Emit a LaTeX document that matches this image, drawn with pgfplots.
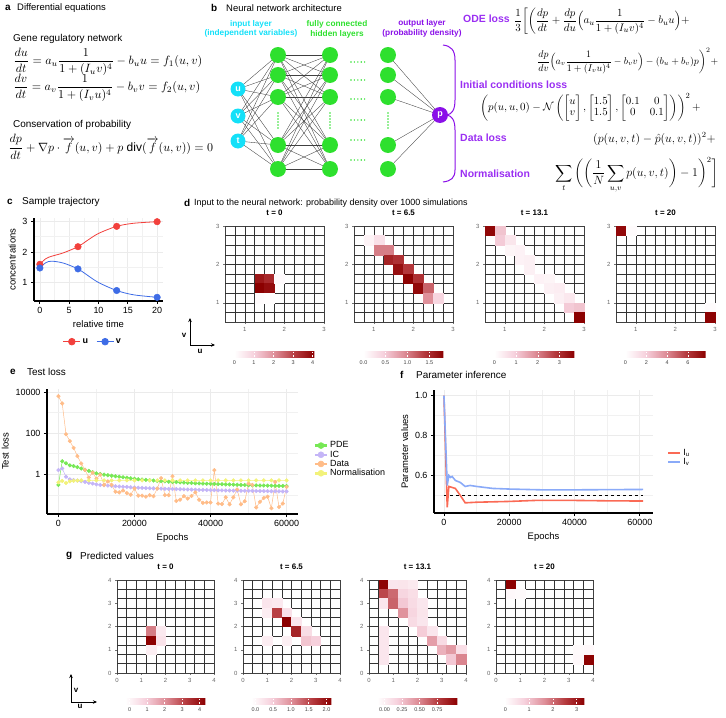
\documentclass[border=0pt]{standalone}
\usepackage{fontspec}
\setmainfont{Liberation Sans}
\usepackage{amsmath}
\usepackage{graphicx}
\usepackage{pgfplots}
\pgfplotsset{compat=1.18}
\usetikzlibrary{arrows.meta}

\newcommand{\fs}[1]{\fontsize{#1}{#1}\selectfont}

\definecolor{ured}{HTML}{F2403C}
\definecolor{vblue}{HTML}{3E6CE6}
\definecolor{pdeg}{HTML}{77E855}
\definecolor{icv}{HTML}{C4B5F7}
\definecolor{datao}{HTML}{FFBC88}
\definecolor{normy}{HTML}{F2F27A}
\definecolor{iured}{HTML}{FA6A55}
\definecolor{ivblue}{HTML}{8AAAF8}
\definecolor{nncyan}{HTML}{14E0F8}
\definecolor{nngreen}{HTML}{2EE02E}
\definecolor{nnpurple}{HTML}{8A10E8}
\definecolor{losspurple}{HTML}{9A2EF2}
\definecolor{gridc}{HTML}{EBEBEB}

\pgfplotsset{
  reds/.style={colormap={reds}{rgb255=(255,255,255) rgb255=(246,208,220) rgb255=(222,142,152) rgb255=(182,60,64) rgb255=(139,0,0)}},
  hm/.style={scale only axis, axis on top, reds, enlargelimits=false,
    tick align=outside, major tick length=2bp, xtick pos=bottom, ytick pos=left,
    tick style={black!55, line width=0.5bp},
    ticklabel style={font=\fs{6}, text=black!60},
    /pgf/number format/assume math mode=true,
    axis line style={black!75, line width=0.8bp},
    extra x tick labels={}, extra y tick labels={},
    extra tick style={grid=major, major tick length=0pt},
    major grid style={black!80, line width=0.6bp},
    title style={font=\bfseries\fs{8}, inner sep=0pt, yshift=4bp},
    colorbar horizontal},
  dmap/.style={hm, width=99bp, height=96bp, xmin=0.5, xmax=3, ymin=0.5, ymax=3,
    xtick={1,2,3}, ytick={1,2,3},
    extra x ticks={0.75,1,1.25,1.5,1.75,2,2.25,2.5,2.75},
    extra y ticks={0.75,1,1.25,1.5,1.75,2,2.25,2.5,2.75}},
  gmap/.style={hm, width=97bp, height=93bp, xmin=0, xmax=4, ymin=0, ymax=4,
    xtick={0,1,2,3,4}, ytick={0,1,2,3,4},
    extra x ticks={0.4,0.8,1.2,1.6,2,2.4,2.8,3.2,3.6},
    extra y ticks={0.4,0.8,1.2,1.6,2,2.4,2.8,3.2,3.6}},
  cbs/.style={at={(parent axis.south)}, anchor=north, scale only axis, width=80bp, height=5.5bp,
    tick align=inside, major tick length=1.6bp, xtick style={draw=white, line width=0.5bp},
    axis line style={draw=none}, xticklabel style={font=\fs{5.5}, text=black!75},
    /pgf/number format/assume math mode=true},
  dcell/.style={scatter, only marks, point meta=explicit, mark=square*, mark size=4.95bp, mark options={yscale=0.97},
    scatter/use mapped color={draw=mapped color, fill=mapped color}},
  gcell/.style={scatter, only marks, point meta=explicit, mark=square*, mark size=4.85bp, mark options={yscale=0.96},
    scatter/use mapped color={draw=mapped color, fill=mapped color}},
  gg/.style={scale only axis, axis lines*=left, tick align=outside, major tick length=3bp, minor tick length=0pt,
    axis line style={black, line width=1.1bp}, tick style={black, line width=0.8bp},
    grid=both, major grid style={gridc, line width=0.7bp}, minor grid style={gridc!70, line width=0.4bp},
    ticklabel style={font=\fs{9}}, label style={font=\fs{9.5}},
    /pgf/number format/assume math mode=true, scaled ticks=false,
    legend cell align=left,
    legend style={draw=none, fill=none, font=\fs{9}}}
}

\begin{document}
\begin{tikzpicture}
\useasboundingbox (0,0) rectangle (726bp,-718bp);

\begin{scope}[x=1bp,y=-1bp]
% ---------- panel a ----------
\node[anchor=west, inner sep=0, font=\bfseries\fs{10}] at (5,8) {a};
\node[anchor=west, inner sep=0, font=\fs{9.5}] at (17,8) {Differential equations};
\node[anchor=west, inner sep=0, font=\fs{10}] at (13,39) {Gene regulatory network};
\node[anchor=west, inner sep=0] at (13,62) {\resizebox{189bp}{!}{$\displaystyle \frac{du}{dt}=a_u\frac{1}{1+(I_uv)^4}-b_uu=f_1(u,v)$}};
\node[anchor=west, inner sep=0] at (13,88) {\resizebox{187bp}{!}{$\displaystyle \frac{dv}{dt}=a_v\frac{1}{1+(I_vu)^4}-b_vv=f_2(u,v)$}};
\node[anchor=west, inner sep=0, font=\fs{10}] at (13,125) {Conservation of probability};
\node[anchor=west, inner sep=0] at (8,147) {\resizebox{205bp}{!}{$\displaystyle \frac{dp}{dt}+\nabla p\cdot\overrightarrow{f}(u,v)+p\;\mathrm{div}(\overrightarrow{f}(u,v))=0$}};

% ---------- panel b ----------
\node[anchor=west, inner sep=0, font=\bfseries\fs{10}] at (211,8) {b};
\node[anchor=west, inner sep=0, font=\fs{9.5}] at (226,8) {Neural network architecture};
\node[inner sep=0, font=\bfseries\fs{8.3}, text=nncyan] at (251,24) {input layer};
\node[inner sep=0, font=\bfseries\fs{8.3}, text=nncyan] at (251,33.5) {(independent variables)};
\node[inner sep=0, font=\bfseries\fs{8.3}, text=nngreen] at (337,24) {fully connected};
\node[inner sep=0, font=\bfseries\fs{8.3}, text=nngreen] at (337,34) {hidden layers};
\node[inner sep=0, font=\bfseries\fs{8.3}, text=nnpurple] at (422,23) {output layer};
\node[inner sep=0, font=\bfseries\fs{8.3}, text=nnpurple] at (422,33) {(probability density)};
\foreach \a in {89,116,141} \foreach \b in {55,75,97,145,169} \draw[black!75, line width=0.35bp] (238,\a)--(278,\b);
\foreach \a in {55,75,97,145,169} \foreach \b in {55,75,97,145,169} \draw[black!75, line width=0.35bp] (278,\a)--(330,\b);
\foreach \a in {55,75,97,145,169} \draw[black!75, line width=0.35bp] (388,\a)--(440,115);
\foreach \x in {278,330,388} {
  \foreach \y in {55,75,97,145,169} \fill[nngreen] (\x,\y) circle (8bp);
  \draw[nngreen, line width=1.6bp, line cap=round, dash pattern=on 0bp off 3bp] (\x,113)--(\x,130);
}
\foreach \y in {62,80,99,120,140,160} \draw[nngreen, line width=1.6bp, line cap=round, dash pattern=on 0bp off 3.4bp] (351,\y)--(367,\y);
\foreach \y/\l in {89/u,116/v,141/t} \node[circle, fill=nncyan, minimum size=15bp, inner sep=0, text=white, font=\bfseries\fs{9}] at (238,\y) {\l};
\node[circle, fill=nnpurple, minimum size=16bp, inner sep=0, text=white, font=\bfseries\fs{9}] at (440,115) {p};
\draw[nnpurple, line width=1bp] (443,45) .. controls (451,46) and (455,50) .. (455,60) -- (455,100)
  .. controls (455,110) and (452,114) .. (447,115) .. controls (452,116) and (455,120) .. (455,130)
  -- (455,170) .. controls (455,178) and (451,181) .. (443,182);
% losses
\node[anchor=west, inner sep=0, font=\bfseries\fs{10.5}, text=losspurple] at (463,19) {ODE loss};
\node[anchor=west, inner sep=0, font=\bfseries\fs{10.5}, text=losspurple] at (460,85) {Initial conditions loss};
\node[anchor=west, inner sep=0, font=\bfseries\fs{10.5}, text=losspurple] at (460,138) {Data loss};
\node[anchor=west, inner sep=0, font=\bfseries\fs{10.5}, text=losspurple] at (460,174) {Normalisation};
\node[anchor=west, inner sep=0, font=\fs{11}] at (514,21) {$\displaystyle \frac{1}{3}\bigg[\bigg(\frac{dp}{dt}+\frac{dp}{du}\Big(a_u\frac{1}{1+(I_uv)^4}-b_uu\Big)+$};
\node[anchor=west, inner sep=0] at (537,61) {\resizebox{181bp}{!}{$\displaystyle \frac{dp}{dv}\Big(a_v\frac{1}{1+(I_vu)^4}-b_vv\Big)-(b_u+b_v)p\bigg)^2+$}};
\node[anchor=west, inner sep=0, font=\fs{11}] at (480,107) {$\displaystyle \left(p(u,u,0)-\mathcal{N}\left(\begin{bmatrix}u\\v\end{bmatrix},\begin{bmatrix}1.5\\1.5\end{bmatrix},\begin{bmatrix}0.1&0\\0&0.1\end{bmatrix}\right)\right)^2+$};
\node[anchor=west, inner sep=0, font=\fs{11.5}] at (593,139) {$\displaystyle (p(u,v,t)-\hat{p}(u,v,t))^2+$};
\node[anchor=west, inner sep=0, font=\fs{11.5}] at (555,175) {$\displaystyle \sum_t\bigg(\bigg(\frac{1}{N}\sum_{u,v}p(u,v,t)\bigg)-1\bigg)^2\bigg]$};

% ---------- headings ----------
\node[anchor=west, inner sep=0, font=\bfseries\fs{10}] at (7,202) {c};
\node[anchor=west, inner sep=0, font=\fs{10}] at (22,202) {Sample trajectory};
\node[anchor=west, inner sep=0, font=\bfseries\fs{10}] at (184,203) {d};
\node[anchor=west, inner sep=0, font=\fs{9}] at (194,203) {Input to the neural network: probability density over 1000 simulations};
\node[anchor=west, inner sep=0, font=\bfseries\fs{10}] at (10,372) {e};
\node[anchor=west, inner sep=0, font=\fs{10}] at (27,372) {Test loss};
\node[anchor=west, inner sep=0, font=\bfseries\fs{10}] at (400,375) {f};
\node[anchor=west, inner sep=0, font=\fs{10}] at (416,375) {Parameter inference};
\node[anchor=west, inner sep=0, font=\bfseries\fs{10}] at (66,556) {g};
\node[anchor=west, inner sep=0, font=\fs{10}] at (80,556) {Predicted values};
% u/v direction keys
\draw[-{Stealth[length=4bp,width=3.5bp]}, line width=0.8bp] (190,345) -- (190,318);
\draw[-{Stealth[length=4bp,width=3.5bp]}, line width=0.8bp] (190,345) -- (215,345);
\node[inner sep=0, font=\bfseries\fs{8}] at (184,335) {v};
\node[inner sep=0, font=\bfseries\fs{8}] at (200,351) {u};
\draw[-{Stealth[length=4bp,width=3.5bp]}, line width=0.8bp] (71,702) -- (71,674);
\draw[-{Stealth[length=4bp,width=3.5bp]}, line width=0.8bp] (71,702) -- (97,702);
\node[inner sep=0, font=\bfseries\fs{8}] at (76,690) {v};
\node[inner sep=0, font=\bfseries\fs{8}] at (80,706) {u};
\end{scope}

% ---------- panel c ----------
\begin{axis}[gg, at={(34bp,-218bp)}, anchor=north west, width=129bp, height=83bp,
  xmin=-1, xmax=21, ymin=0.41, ymax=3.10, xtick={0,5,10,15,20}, minor xtick={2.5,7.5,12.5,17.5},
  ytick={1,2,3}, minor ytick={1.5,2.5}, xlabel={relative time}, ylabel={concentrations},
  legend style={at={(0.457,-0.49)}, anchor=center, legend columns=2, font=\bfseries\fs{9},
    /tikz/every even column/.append style={column sep=6bp}}]
\addplot[ured, line width=0.8bp, smooth, forget plot] coordinates {(0,1.6) (1,1.78) (2,1.86) (4,1.97) (6.5,2.17) (8,2.36) (10,2.6) (13.1,2.83) (16,2.93) (20,2.98)};
\addplot[vblue, line width=0.8bp, smooth, forget plot] coordinates {(0,1.48) (1,1.65) (2,1.7) (4,1.64) (6.5,1.45) (8,1.26) (10,1.01) (13.1,0.75) (16,0.61) (20,0.53)};
\addplot[ured, only marks, mark=*, mark size=3.3bp, forget plot] coordinates {(0,1.6) (6.5,2.17) (13.1,2.83) (20,2.98)};
\addplot[vblue, only marks, mark=*, mark size=3.3bp, forget plot] coordinates {(0,1.48) (6.5,1.45) (13.1,0.75) (20,0.53)};
\addlegendimage{ured, line width=0.8bp, mark=*, mark size=3.3bp}
\addlegendentry{u}
\addlegendimage{vblue, line width=0.8bp, mark=*, mark size=3.3bp}
\addlegendentry{v}
\end{axis}

% ---------- panel d ----------
\begin{axis}[dmap, at={(225bp,-226bp)}, anchor=north west, title={t = 0}, point meta min=0, point meta max=4.1,
  colorbar style={cbs, yshift=-21bp, xtick={0,1,2,3,4}}]
\addplot[dcell] table[meta index=2] {
1.375 1.625 3.7
1.625 1.625 3.4
1.375 1.375 4.1
1.625 1.375 3.9
1.875 1.625 0.1
1.375 1.125 0.08
1.625 1.125 0.05
};
\end{axis}
\begin{axis}[dmap, at={(354bp,-226bp)}, anchor=north west, title={t = 6.5}, point meta min=0, point meta max=1.82,
  colorbar style={cbs, yshift=-21bp, xtick={0,0.5,1,1.5}, xticklabels={0.0,0.5,1.0,1.5}}]
\addplot[dcell] table[meta index=2] {
0.875 2.625 0.12
1.125 2.625 0.3
1.125 2.375 1.0
1.375 2.375 1.0
1.375 2.125 1.55
1.625 2.125 1.45
1.625 1.875 1.7
1.875 1.875 1.4
1.875 1.625 1.8
2.125 1.625 1.45
2.125 1.375 1.75
2.375 1.375 1.15
2.375 1.125 0.9
2.625 1.125 0.4
};
\end{axis}
\begin{axis}[dmap, at={(485bp,-226bp)}, anchor=north west, title={t = 13.1}, point meta min=0, point meta max=3.7,
  colorbar style={cbs, yshift=-21bp, xtick={0,1,2,3}}]
\addplot[dcell] table[meta index=2] {
0.625 2.875 3.6
0.875 2.875 1.1
0.875 2.625 1.0
1.125 2.625 0.5
1.125 2.375 0.2
1.375 2.375 0.25
1.375 2.125 0.25
1.625 2.125 0.3
1.625 1.875 0.3
1.875 1.625 0.25
2.125 1.625 0.2
2.125 1.375 0.3
2.375 1.375 0.35
2.375 1.125 0.3
2.625 1.125 0.45
2.625 0.875 1.0
2.875 0.875 1.1
2.875 0.625 3.7
};
\end{axis}
\begin{axis}[dmap, at={(616bp,-226bp)}, anchor=north west, title={t = 20}, point meta min=0, point meta max=7.7,
  colorbar style={cbs, yshift=-21bp, xtick={0,2,4,6}}]
\addplot[dcell] table[meta index=2] {
0.625 2.875 7.4
0.875 2.875 0.15
2.875 0.875 0.15
2.875 0.625 7.6
};
\end{axis}

% ---------- panel e ----------
\begin{axis}[gg, at={(47bp,-389bp)}, anchor=north west, width=251bp, height=125bp, ymode=log,
  xmin=-3000, xmax=63000, ymin=0.0115, ymax=14125,
  xtick={0,20000,40000,60000}, xticklabels={0,20000,40000,60000}, minor xtick={10000,30000,50000},
  ytick={1,100,10000}, yticklabels={1,100,10000}, minor ytick={0.1,10,1000},
  xlabel={Epochs}, ylabel={Test loss},
  legend style={at={(1.05,0.436)}, anchor=west, row sep=-2.5bp},
  legend image code/.code={\draw[#1, line width=2.5bp] (0bp,0bp)--(12bp,0bp); \fill[#1] (6bp,0bp) circle (3bp);}]
\addplot[pdeg, line width=0.5bp, mark=*, mark size=1.8bp] table {
0 0.30
1000 4.3
2000 3.4
3000 2.7
4000 2.5
5000 2.2
6000 1.9
7000 1.65
8000 1.45
9000 1.25
10000 1.1
11000 1.02
12000 0.95
13000 0.89
14000 0.84
15000 0.79
16000 0.75
17000 0.71
18000 0.67
19000 0.63
20000 0.6
21000 0.57
22000 0.55
23000 0.53
24000 0.51
25000 0.49
26000 0.47
27000 0.46
28000 0.45
29000 0.43
30000 0.42
31000 0.41
32000 0.4
33000 0.39
34000 0.38
35000 0.37
36000 0.36
37000 0.355
38000 0.35
39000 0.345
40000 0.34
41000 0.335
42000 0.33
43000 0.325
44000 0.32
45000 0.315
46000 0.31
47000 0.305
48000 0.3
49000 0.295
50000 0.29
51000 0.288
52000 0.285
53000 0.282
54000 0.28
55000 0.277
56000 0.275
57000 0.272
58000 0.27
59000 0.268
60000 0.265
};
\addlegendentry{PDE}
\addplot[icv, line width=0.5bp, mark=*, mark size=1.8bp] table {
0 1.6
1000 1.9
2000 0.75
3000 0.56
4000 0.52
5000 0.49
6000 0.46
7000 0.42
8000 0.38
9000 0.35
10000 0.32
11000 0.3
12000 0.29
13000 0.28
14000 0.27
15000 0.26
16000 0.25
17000 0.245
18000 0.24
19000 0.23
20000 0.225
21000 0.22
22000 0.215
23000 0.21
24000 0.207
25000 0.204
26000 0.2
27000 0.198
28000 0.195
29000 0.192
30000 0.19
31000 0.188
32000 0.185
33000 0.183
34000 0.18
35000 0.178
36000 0.176
37000 0.174
38000 0.172
39000 0.17
40000 0.168
41000 0.166
42000 0.164
43000 0.163
44000 0.161
45000 0.16
46000 0.158
47000 0.157
48000 0.156
49000 0.155
50000 0.154
51000 0.153
52000 0.152
53000 0.151
54000 0.15
55000 0.149
56000 0.148
57000 0.147
58000 0.146
59000 0.145
60000 0.145
};
\addlegendentry{IC}
\addplot[datao, line width=0.5bp, mark=*, mark size=1.8bp] table {
0 6300
1000 2800
2000 89
3000 41
4000 19
5000 7.6
6000 3.3
7000 1.6
8000 0.69
9000 1.2
10000 0.6
11000 0.95
12000 0.3
13000 0.45
14000 0.3
15000 0.14
16000 0.13
17000 0.16
18000 0.12
19000 0.1
20000 0.2
21000 0.09
22000 0.09
23000 0.08
24000 0.095
25000 0.085
26000 0.2
27000 0.64
28000 0.095
29000 0.095
30000 0.8
31000 0.05
32000 0.057
33000 0.085
34000 0.065
35000 0.087
36000 0.13
37000 0.057
38000 0.04
39000 0.042
40000 0.042
41000 1.57
42000 0.037
43000 0.035
44000 0.075
45000 0.034
46000 0.075
47000 0.18
48000 0.034
49000 0.048
50000 0.35
51000 0.3
52000 0.024
53000 0.045
54000 0.07
55000 0.08
56000 0.022
57000 0.42
58000 0.025
59000 0.037
60000 0.24
};
\addlegendentry{Data}
\addplot[normy, line width=0.5bp, mark=*, mark size=1.8bp] table {
0 0.4
1000 0.47
2000 0.37
3000 0.45
4000 0.48
5000 0.49
6000 0.5
8000 0.5
10000 0.5
12000 0.5
14000 0.5
16000 0.5
18000 0.5
20000 0.5
22000 0.5
24000 0.5
26000 0.5
28000 0.5
30000 0.5
32000 0.5
34000 0.5
36000 0.5
38000 0.5
40000 0.5
42000 0.5
44000 0.5
46000 0.5
48000 0.5
50000 0.5
52000 0.5
54000 0.5
56000 0.5
58000 0.5
60000 0.5
};
\addlegendentry{Normalisation}
\end{axis}

% ---------- panel f ----------
\begin{axis}[gg, at={(434bp,-390bp)}, anchor=north west, width=219bp, height=123bp,
  xmin=-3050, xmax=64050, ymin=0.412, ymax=1.028,
  xtick={0,20000,40000,60000}, xticklabels={0,20000,40000,60000}, minor xtick={10000,30000,50000},
  ytick={0.6,0.8,1.0}, yticklabels={0.6,0.8,1.0}, minor ytick={0.5,0.7,0.9},
  xlabel={Epochs}, ylabel={Parameter values},
  legend style={at={(1.05,0.45)}, anchor=west, row sep=-2.5bp},
  legend image code/.code={\draw[#1, line width=2.2bp] (0bp,0bp)--(12bp,0bp);}]
\addplot[black, dashed, line width=0.8bp, forget plot] coordinates {(0,0.5) (61000,0.5)};
\addplot[iured, line width=1.6bp] coordinates {(0,1.0) (1000,0.44) (1500,0.545) (2500,0.54) (3500,0.535) (5000,0.5) (6500,0.463) (10000,0.466) (20000,0.47) (28000,0.475) (40000,0.475) (50000,0.473) (61000,0.472)};
\addlegendentry{I\textsubscript{u}}
\addplot[ivblue, line width=1.6bp] coordinates {(0,1.0) (1000,0.55) (1500,0.6) (2000,0.59) (2500,0.595) (3500,0.575) (5000,0.565) (6500,0.545) (8000,0.55) (10000,0.545) (15000,0.535) (20000,0.532) (30000,0.528) (40000,0.528) (50000,0.529) (61000,0.53)};
\addlegendentry{I\textsubscript{v}}
\end{axis}

% ---------- panel g ----------
\begin{axis}[gmap, at={(117bp,-580bp)}, anchor=north west, title={t = 0}, point meta min=-0.23, point meta max=4.34,
  colorbar style={cbs, yshift=-17bp, xtick={0,1,2,3,4}}]
\addplot[gcell] table[meta index=2] {
1.4 1.8 2.3
1.8 1.8 0.3
1.4 1.4 4.3
1.8 1.4 0.45
1.4 1.0 0.15
};
\end{axis}
\begin{axis}[gmap, at={(243bp,-580bp)}, anchor=north west, title={t = 6.5}, point meta min=-0.11, point meta max=2.14,
  colorbar style={cbs, yshift=-17bp, xtick={0,0.5,1,1.5,2}, xticklabels={0.0,0.5,1.0,1.5,2.0}}]
\addplot[gcell] table[meta index=2] {
1.0 3.0 0.2
1.4 3.0 0.15
1.0 2.6 0.1
1.4 2.6 1.55
1.8 2.6 0.25
1.8 2.2 2.14
2.2 2.2 0.2
2.2 1.8 1.8
2.6 1.8 0.3
2.6 1.4 0.55
3.0 1.4 0.45
1.0 1.4 0.1
1.8 1.4 0.08
};
\end{axis}
\begin{axis}[gmap, at={(369bp,-580bp)}, anchor=north west, title={t = 13.1}, point meta min=-0.1, point meta max=1.04,
  colorbar style={cbs, yshift=-17bp, xtick={0,0.25,0.5,0.75}, xticklabels={0.00,0.25,0.50,0.75}}]
\addplot[gcell] table[meta index=2] {
0.6 3.8 1.02
1.0 3.8 0.05
1.4 3.8 0.06
1.8 3.8 0.03
0.6 3.4 0.72
1.0 3.4 0.6
1.4 3.4 0.15
1.8 3.4 0.1
0.6 3.0 0.05
1.0 3.0 0.62
1.4 3.0 0.22
1.8 3.0 0.12
2.2 3.0 0.05
1.4 2.6 0.45
1.8 2.6 0.15
2.2 2.6 0.06
1.8 2.2 0.12
2.2 2.2 0.05
0.6 1.8 0.05
2.2 1.8 0.2
2.6 1.8 0.05
0.6 1.4 0.05
2.6 1.4 0.4
3.0 1.4 0.12
0.6 1.0 0.05
3.0 1.0 0.32
3.4 1.0 0.42
3.8 1.0 0.1
0.6 0.6 0.05
3.4 0.6 0.22
3.8 0.6 0.5
};
\end{axis}
\begin{axis}[gmap, at={(496bp,-580bp)}, anchor=north west, title={t = 20}, point meta min=-0.04, point meta max=3.33,
  colorbar style={cbs, yshift=-17bp, xtick={0,1,2,3}}]
\addplot[gcell] table[meta index=2] {
0.6 3.8 3.3
0.6 3.4 0.08
1.0 3.4 0.05
3.8 0.6 3.3
3.8 1.0 0.08
3.4 0.6 0.08
3.4 1.0 0.05
};
\end{axis}
\end{tikzpicture}
\end{document}
